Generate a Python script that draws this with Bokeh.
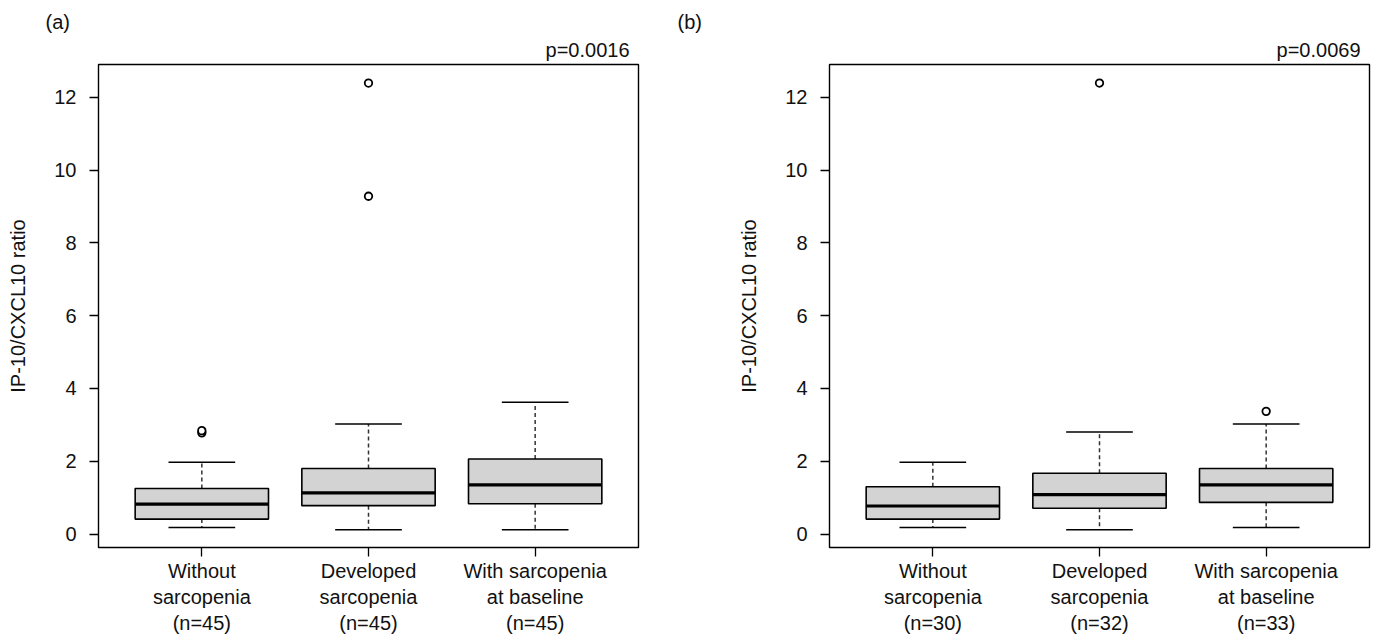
from bokeh.plotting import figure
from bokeh.layouts import row
from bokeh.models import FixedTicker, Title, Range1d, ColumnDataSource
from bokeh.embed import file_html
from bokeh.resources import INLINE

FONT = "Liberation Sans"
FS = "20px"
TXT = "#111111"

# ---- data ----
groups = [1, 2, 3]
labels_a = ["Without\nsarcopenia\n(n=45)", "Developed\nsarcopenia\n(n=45)", "With sarcopenia\nat baseline\n(n=45)"]
labels_b = ["Without\nsarcopenia\n(n=30)", "Developed\nsarcopenia\n(n=32)", "With sarcopenia\nat baseline\n(n=33)"]

a_lo = [0.18, 0.12, 0.12]
a_q1 = [0.41, 0.78, 0.83]
a_med = [0.82, 1.13, 1.35]
a_q3 = [1.25, 1.80, 2.06]
a_hi = [1.97, 3.02, 3.62]
a_out_g = [1, 1, 2, 2]
a_out_v = [2.78, 2.84, 9.28, 12.39]

b_lo = [0.18, 0.12, 0.18]
b_q1 = [0.41, 0.71, 0.87]
b_med = [0.77, 1.08, 1.35]
b_q3 = [1.30, 1.67, 1.80]
b_hi = [1.97, 2.80, 3.02]
b_out_g = [2, 3]
b_out_v = [12.39, 3.37]

y_ticks = [0, 2, 4, 6, 8, 10, 12]
p_texts = ["p=0.0016", "p=0.0069"]
panel_tags = ["(a)", "(b)"]
y_label = "IP-10/CXCL10 ratio"

XMIN, XMAX = 0.38, 3.62
YMIN, YMAX = -0.37, 12.9
BOXW = 0.8
CAPW = 0.4


def panel(lo, q1, med, q3, hi, og, ov, xlabels, ptext, tag, width, left_border, right_border, tag_offset):
    p = figure(width=width, height=637, output_backend="svg", toolbar_location=None,
               x_range=Range1d(XMIN, XMAX), y_range=Range1d(YMIN, YMAX),
               min_border_left=left_border, min_border_right=right_border,
               min_border_top=64, min_border_bottom=89)
    p.grid.visible = False
    p.outline_line_color = "black"
    p.outline_line_width = 1.4
    p.background_fill_color = "white"
    p.border_fill_color = "white"

    src = ColumnDataSource(dict(x=groups, lo=lo, q1=q1, med=med, q3=q3, hi=hi,
                                ml=[g - BOXW / 2 for g in groups], mr=[g + BOXW / 2 for g in groups],
                                cl=[g - CAPW / 2 for g in groups], cr=[g + CAPW / 2 for g in groups]))
    # whiskers (dashed)
    p.segment(x0="x", y0="q3", x1="x", y1="hi", source=src, line_color="#333333", line_width=1.5, line_dash="4 3")
    p.segment(x0="x", y0="q1", x1="x", y1="lo", source=src, line_color="#333333", line_width=1.5, line_dash="4 3")
    # caps
    p.segment(x0="cl", y0="hi", x1="cr", y1="hi", source=src, line_color="black", line_width=1.5)
    p.segment(x0="cl", y0="lo", x1="cr", y1="lo", source=src, line_color="black", line_width=1.5)
    # boxes
    p.vbar(x="x", width=BOXW, bottom="q1", top="q3", source=src, fill_color="#d3d3d3",
           line_color="black", line_width=1.6)
    # medians
    p.segment(x0="ml", y0="med", x1="mr", y1="med", source=src, line_color="black", line_width=3.2)
    # outliers
    p.scatter(x=og, y=ov, marker="circle", size=7.5, fill_color="white", line_color="black", line_width=1.8)

    # axes
    p.yaxis.ticker = FixedTicker(ticks=y_ticks)
    p.xaxis.ticker = FixedTicker(ticks=groups)
    p.xaxis.major_label_overrides = {g: l for g, l in zip(groups, xlabels)}
    for ax in (p.xaxis[0], p.yaxis[0]):
        ax.axis_line_color = None
        ax.major_tick_in = 0
        ax.major_tick_out = 9
        ax.major_tick_line_color = "black"
        ax.major_tick_line_width = 1.3
        ax.minor_tick_line_color = None
        ax.major_label_text_font = FONT
        ax.major_label_text_font_size = FS
        ax.major_label_text_color = TXT
    p.yaxis.major_label_orientation = 0
    p.yaxis.major_label_standoff = 13
    p.xaxis.major_label_standoff = 3
    p.yaxis.axis_label = y_label
    p.yaxis.axis_label_text_font = FONT
    p.yaxis.axis_label_text_font_size = FS
    p.yaxis.axis_label_text_font_style = "normal"
    p.yaxis.axis_label_text_color = TXT
    p.yaxis.axis_label_standoff = 22

    # panel tag (outer) and p-value (closest to frame)
    p.title.text = tag
    p.title.align = "left"
    p.title.offset = tag_offset
    p.title.standoff = 0
    p.title.text_font = FONT
    p.title.text_font_size = FS
    p.title.text_font_style = "normal"
    p.title.text_color = TXT
    p.add_layout(Title(text=ptext, align="right", offset=9, standoff=8, text_font=FONT,
                       text_font_size=FS, text_font_style="normal", text_color=TXT), "above")
    return p


pa = panel(a_lo, a_q1, a_med, a_q3, a_hi, a_out_g, a_out_v, labels_a, p_texts[0], panel_tags[0],
           670, 98, 32, -53)
pb = panel(b_lo, b_q1, b_med, b_q3, b_hi, b_out_g, b_out_v, labels_b, p_texts[1], panel_tags[1],
           707, 159, 8, -152)

layout = row(pa, pb)
open("out.html", "w").write(file_html(layout, INLINE))
